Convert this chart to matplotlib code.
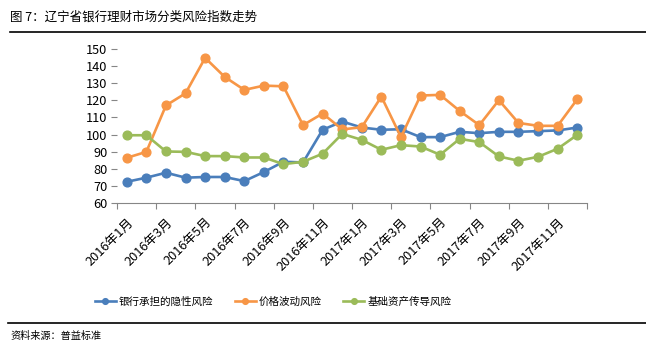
import matplotlib
matplotlib.use('Agg')
import matplotlib.pyplot as plt
from matplotlib.lines import Line2D
import numpy as np

plt.rcParams['font.family'] = ['Noto Sans CJK SC', 'DejaVu Sans']

months = ['2016年1月', '2016年2月', '2016年3月', '2016年4月', '2016年5月', '2016年6月',
          '2016年7月', '2016年8月', '2016年9月', '2016年10月', '2016年11月', '2016年12月',
          '2017年1月', '2017年2月', '2017年3月', '2017年4月', '2017年5月', '2017年6月',
          '2017年7月', '2017年8月', '2017年9月', '2017年10月', '2017年11月', '2017年12月']

bank_risk = [72.4, 74.8, 77.7, 74.8, 75.2, 75.2, 72.8, 78.1, 84.1, 83.7, 102.8, 107.6,
             104.1, 102.8, 103.1, 98.5, 98.5, 101.6, 100.8, 101.6, 101.6, 102.0, 102.4, 104.1]
price_risk = [86.4, 89.9, 117.0, 124.1, 144.8, 133.7, 126.1, 128.6, 128.2, 105.5, 112.3, 103.0,
              104.3, 122.2, 98.5, 122.8, 123.2, 113.8, 105.5, 120.1, 106.8, 105.1, 105.1, 120.6]
asset_risk = [99.6, 99.6, 90.1, 89.9, 87.4, 87.4, 86.6, 86.6, 82.7, 84.1, 88.8, 100.4,
              96.9, 91.1, 93.8, 93.0, 88.2, 97.5, 95.6, 87.2, 84.7, 87.0, 91.7, 99.8]

series_names = ['银行承担的隐性风险', '价格波动风险', '基础资产传导风险']
colors = ['#4A7EBB', '#F79646', '#9BBB59']

fig = plt.figure(figsize=(6.46, 3.57), dpi=100)
ax = fig.add_axes([117 / 646, 1 - 203 / 357, 470 / 646, 154 / 357])

x = np.arange(len(months))
for vals, name, c in zip([bank_risk, price_risk, asset_risk], series_names, colors):
    ax.plot(x, vals, color=c, lw=1.9, marker='o', markersize=6.3, label=name)

ax.set_xlim(-0.5, len(months) - 0.5)
ax.set_ylim(60, 150)
ax.set_yticks(np.arange(60, 151, 10))

ax.set_xticks(np.arange(-0.5, len(months), 2))
ax.set_xticklabels([])
ax.set_xticks(x[::2], minor=True)
ax.set_xticklabels(months[::2], minor=True, rotation=45, ha='right', va='top',
                   rotation_mode='anchor', fontsize=9.2)
ax.tick_params(axis='x', which='minor', length=0, pad=9)
ax.tick_params(axis='x', which='major', length=4, color='#868686')
ax.tick_params(axis='y', length=4, color='#868686', labelsize=9.2, pad=3)

for s in ['top', 'right']:
    ax.spines[s].set_visible(False)
ax.spines['left'].set_visible(False)
ax.spines['bottom'].set_color('#868686')

# title and rules
fig.text(10 / 646, 1 - 17 / 357, '图 7：辽宁省银行理财市场分类风险指数走势', fontsize=9,
         ha='left', va='center')
fig.add_artist(Line2D([10 / 646, 1], [1 - 32 / 357] * 2, color='black', lw=1.2))
fig.add_artist(Line2D([8 / 646, 1], [1 - 323 / 357] * 2, color='black', lw=1.2))
fig.text(10 / 646, 1 - 336 / 357, '资料来源：普益标准', fontsize=7.3, ha='left', va='center')

fig.legend(loc='center', bbox_to_anchor=(273 / 646, 1 - 302 / 357), ncol=3, frameon=False,
           fontsize=7.6, handlelength=2.0, handletextpad=0.3, columnspacing=2.0,
           markerscale=0.65)

fig.savefig('out.png', dpi=100, facecolor='white')
